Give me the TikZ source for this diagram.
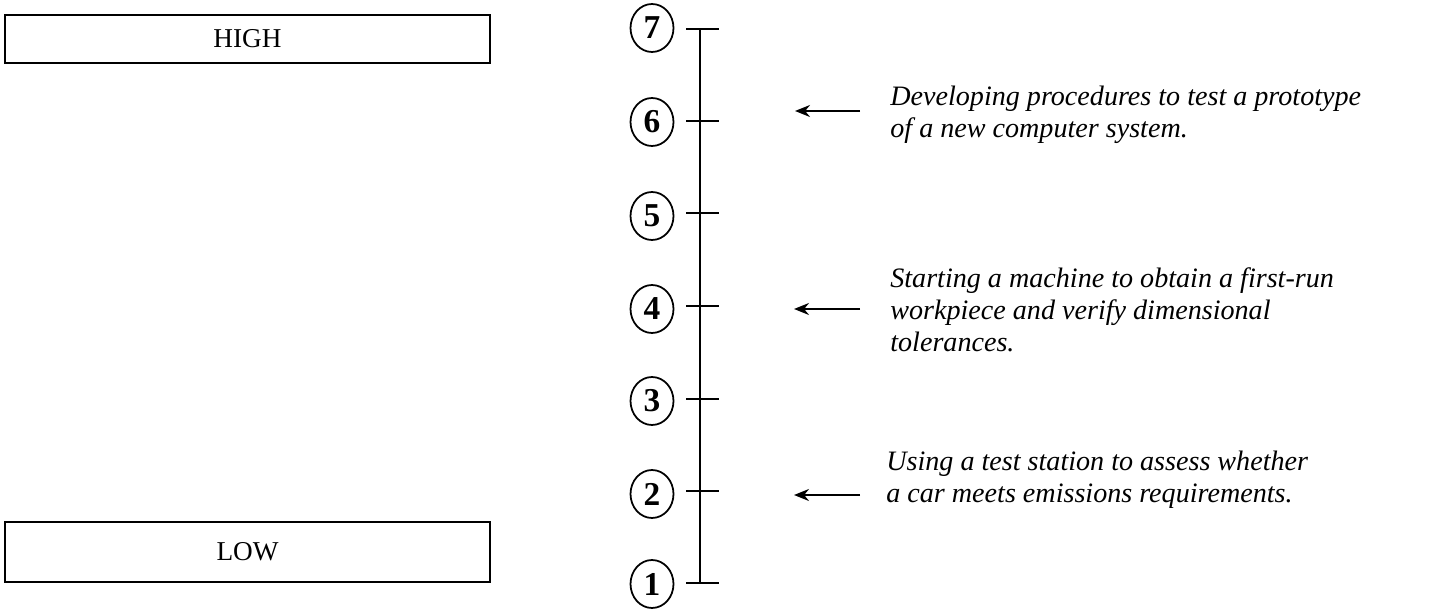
\documentclass[tikz,border=0pt]{standalone}
\usepackage{fontspec}
\setmainfont{Liberation Serif}
\usetikzlibrary{arrows.meta,shapes.geometric}

\begin{document}
\begin{tikzpicture}[x=0.02cm, y=-0.02cm, >={Stealth[length=3mm,width=2.4mm]},
  levelbox/.style={draw, line width=1.2pt, minimum width=9.7cm, inner sep=0pt, font=\fontsize{15.5}{18}\selectfont},
  rank/.style={draw, ellipse, line width=1pt, inner sep=0pt, minimum width=0.86cm, minimum height=0.96cm, font=\fontsize{19}{19}\selectfont\bfseries},
  desc/.style={anchor=west, align=left, inner sep=0pt, font=\fontsize{16}{18.2}\selectfont\itshape}]
\useasboundingbox (0,0) rectangle (1429,614);

\node[levelbox, minimum height=0.96cm] (high) at (247.5,39) {HIGH};
\node[levelbox, minimum height=1.2cm] (low) at (247.5,552) {LOW};

% scale
\coordinate (t7) at (700,29);
\coordinate (t6) at (700,121);
\coordinate (t5) at (700,213);
\coordinate (t4) at (700,306);
\coordinate (t3) at (700,399);
\coordinate (t2) at (700,491);
\coordinate (t1) at (700,583);
\draw[line width=1.3pt] (t7) -- (t1);
\draw[line width=1.2pt] ([xshift=-14*0.02cm]t7) -- ([xshift=19*0.02cm]t7);
\draw[line width=1.2pt] ([xshift=-14*0.02cm]t6) -- ([xshift=19*0.02cm]t6);
\draw[line width=1.2pt] ([xshift=-14*0.02cm]t5) -- ([xshift=19*0.02cm]t5);
\draw[line width=1.2pt] ([xshift=-14*0.02cm]t4) -- ([xshift=19*0.02cm]t4);
\draw[line width=1.2pt] ([xshift=-14*0.02cm]t3) -- ([xshift=19*0.02cm]t3);
\draw[line width=1.2pt] ([xshift=-14*0.02cm]t2) -- ([xshift=19*0.02cm]t2);
\draw[line width=1.2pt] ([xshift=-14*0.02cm]t1) -- ([xshift=19*0.02cm]t1);

\node[rank] (r7) at (652,28) {7};
\node[rank] (r6) at (652,122) {6};
\node[rank] (r5) at (652,216) {5};
\node[rank] (r4) at (652,309) {4};
\node[rank] (r3) at (652,401) {3};
\node[rank] (r2) at (652,494) {2};
\node[rank] (r1) at (652,584) {1};

\node[desc] (d6) at (890,115) {Developing procedures to test a prototype\\of a new computer system.};
\node[desc] (d4) at (890,310) {Starting a machine to obtain a first-run\\workpiece and verify dimensional\\tolerances.};
\node[desc] (d2) at (886,480) {Using a test station to assess whether\\a car meets emissions requirements.};

\coordinate (a6) at (860,111);
\coordinate (p6) at (795,111);
\coordinate (a4) at (860,309);
\coordinate (p4) at (794,309);
\coordinate (a2) at (860,495);
\coordinate (p2) at (794,495);
\draw[->, line width=1.1pt] (a6) -- (p6);
\draw[->, line width=1.1pt] (a4) -- (p4);
\draw[->, line width=1.1pt] (a2) -- (p2);
\end{tikzpicture}
\end{document}
